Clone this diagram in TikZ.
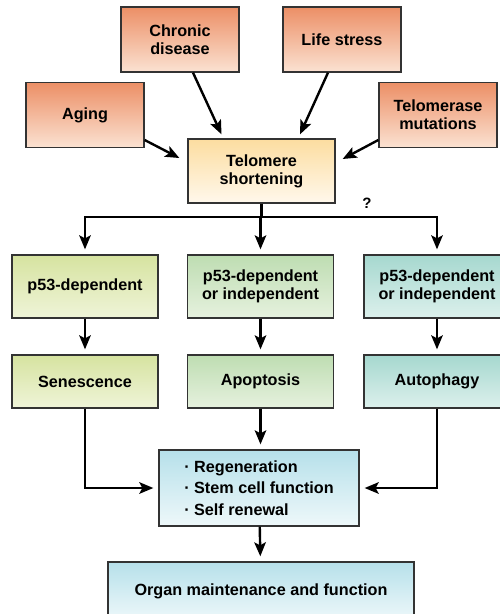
\documentclass[tikz,border=0pt]{standalone}
\usepackage{fontspec}
\setmainfont{Liberation Sans}
\usetikzlibrary{
  arrows.meta,
  positioning
}
\definecolor{boxedge}{HTML}{333333}
\definecolor{causetop}{HTML}{EC8F66}
\definecolor{causebot}{HTML}{FBE2D2}
\definecolor{teltop}{HTML}{FCDDA0}
\definecolor{telbot}{HTML}{FFF8EC}
\definecolor{sentop}{HTML}{D6E3A0}
\definecolor{senbot}{HTML}{EFF4D8}
\definecolor{apotop}{HTML}{BEDDB2}
\definecolor{apobot}{HTML}{E6F1DE}
\definecolor{auttop}{HTML}{A6D8CF}
\definecolor{autbot}{HTML}{DCF0EC}
\definecolor{outtop}{HTML}{B6E0EA}
\definecolor{outbot}{HTML}{EEF8FA}
\tikzset{
  >={Stealth[length=14pt,width=11.5pt,inset=3pt]},
  box/.style={draw=boxedge, line width=1.3pt, align=center, inner sep=0pt,
    font=\fontsize{16.2}{18}\selectfont\bfseries},
  cause/.style={box, minimum width=118pt, minimum height=65pt,
    top color=causetop, bottom color=causebot},
  path/.style={box, minimum width=146pt, minimum height=63pt},
  fate/.style={box, minimum width=146pt, minimum height=53pt},
  sen/.style={top color=sentop, bottom color=senbot},
  apo/.style={top color=apotop, bottom color=apobot},
  aut/.style={top color=auttop, bottom color=autbot},
  outcome/.style={box, top color=outtop, bottom color=outbot},
  link/.style={->, line width=2.4pt, shorten >=5pt}
}
\begin{document}
\begin{tikzpicture}[x=1pt,y=-1pt]
  \useasboundingbox[fill=white] (0,0) rectangle (499,614);

  % causes
  \node[cause] (chronic) at (180,39.5) {Chronic\\disease};
  \node[cause] (stress) at (342,39.5) {Life stress};
  \node[cause] (aging) at (85,115) {Aging};
  \node[cause] (telomerase) at (438,115) {Telomerase\\mutations};
  \node[box, minimum width=147pt, minimum height=64pt,
    top color=teltop, bottom color=telbot] (telomere) at (261.5,171) {Telomere\\shortening};

  % pathways
  \node[path, sen] (p53a) at (85,286.5) {p53-dependent};
  \node[path, apo] (p53b) at (260.5,286.5) {p53-dependent\\or independent};
  \node[path, aut] (p53c) at (437,286.5) {p53-dependent\\or independent};

  \node[fate, sen] (senescence) at (85,381.5) {Senescence};
  \node[fate, apo] (apoptosis) at (260.5,381.5) {Apoptosis};
  \node[fate, aut] (autophagy) at (437,381.5) {Autophagy};

  % outcomes
  \node[outcome, minimum width=200pt, minimum height=76pt, align=left,
    font=\fontsize{16.2}{21.5}\selectfont\bfseries] (stem) at (259,488)
    {·\ Regeneration\\·\ Stem cell function\\·\ Self renewal};
  \node[outcome, minimum width=306pt, minimum height=58pt] (organ) at (261,591)
    {Organ maintenance and function};

  % arrows into telomere shortening
  \draw[link, shorten >=0pt] ([yshift=-25pt]aging.east) -- ([xshift=-8pt,yshift=13pt]telomere.west);
  \draw[link, shorten >=0pt] ([xshift=13pt]chronic.south) -- ([xshift=-40pt,yshift=4pt]telomere.north);
  \draw[link, shorten >=0pt] ([xshift=-14pt]stress.south) -- ([xshift=38.5pt,yshift=4pt]telomere.north);
  \draw[link, shorten >=0pt] ([yshift=-25pt]telomerase.west) -- ([xshift=7pt,yshift=12pt]telomere.east);

  % split
  \coordinate (split) at (261.5,217);
  \draw[line width=2.4pt] (telomere.south) -- (split);
  \draw[link] (split) -| (p53a.north);
  \draw[link] (split) -- (split -| p53b.north) -- (p53b.north);
  \draw[link] (split) -| (p53c.north);
  \node[font=\fontsize{15}{17}\selectfont\bfseries] (unknown) at (367,203) {?};

  \draw[link] (p53a) -- (senescence);
  \draw[link] (p53b) -- (apoptosis);
  \draw[link] (p53c) -- (autophagy);

  \draw[link, shorten >=7pt] (senescence.south) |- ([xshift=2pt]stem.west);
  \draw[link] (apoptosis) -- (apoptosis |- stem.north);
  \draw[link, shorten >=7pt] (autophagy.south) |- ([xshift=-2pt]stem.east);
  \draw[link] (stem) -- (organ);
\end{tikzpicture}
\end{document}
